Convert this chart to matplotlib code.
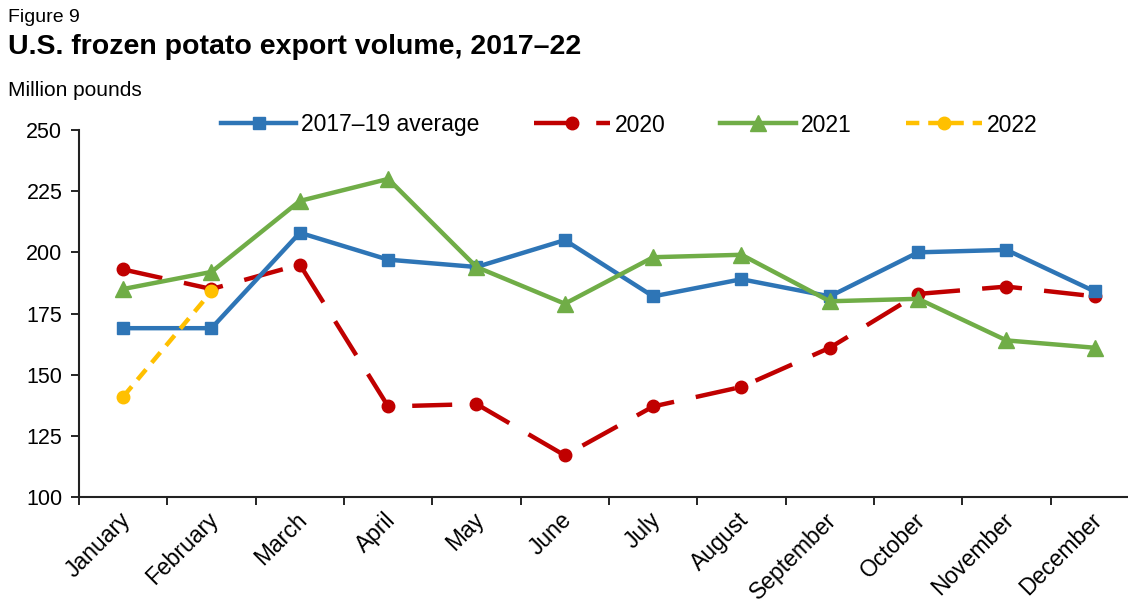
import numpy as np
import matplotlib
matplotlib.use("Agg")
import matplotlib.pyplot as plt

plt.rcParams['font.family'] = ['Liberation Sans', 'DejaVu Sans']

months = ["January", "February", "March", "April", "May", "June", "July",
          "August", "September", "October", "November", "December"]
avg_17_19 = [169, 169, 208, 197, 194, 205, 182, 189, 182, 200, 201, 184]
y2020 = [193, 185, 195, 137, 138, 117, 137, 145, 161, 183, 186, 182]
y2021 = [185, 192, 221, 230, 194, 179, 198, 199, 180, 181, 164, 161]
y2022 = [141, 184]
yticks = [100, 125, 150, 175, 200, 225, 250]

blue = "#2E75B6"
red = "#C00000"
green = "#70AD47"
yellow = "#FFC000"

fig = plt.figure(figsize=(11.28, 6.06), dpi=100)
ax = fig.add_axes([79/1128, 109/606, 1060/1128, 367/606])

x = np.arange(len(months))
ax.plot(x, avg_17_19, color=blue, lw=3.2, marker="s", ms=9, label="2017\u201319 average", zorder=3)
ax.plot(x, y2020, color=red, lw=3.2, marker="o", ms=9, dashes=(9, 5), label="2020", zorder=2)
ax.plot(x, y2021, color=green, lw=3.2, marker="^", ms=11, label="2021", zorder=4)
ax.plot(x[:len(y2022)], y2022, color=yellow, lw=3.2, marker="o", ms=9, dashes=(3, 2), label="2022", zorder=5)

ax.set_xlim(-0.5, 11.5)
ax.set_ylim(100, 250)
ax.set_yticks(yticks)
ax.set_xticks(np.arange(-0.5, 12, 1), minor=False)
ax.set_xticklabels([])
ax.set_xticks(x - 0.05, minor=True)
ax.set_xticklabels(months, minor=True, rotation=45, ha="right", va="top",
                   rotation_mode="anchor", fontsize=16.5)
ax.tick_params(axis="x", which="minor", length=0, pad=8)
ax.tick_params(axis="x", which="major", length=6, width=1.2, direction="out")
ax.tick_params(axis="y", length=6, width=1.2, direction="out", labelsize=15.5, pad=6)
for s in ["top", "right"]:
    ax.spines[s].set_visible(False)
for s in ["left", "bottom"]:
    ax.spines[s].set_linewidth(1.5)
    ax.spines[s].set_color("#222222")

fig.text(8/1128, 1 - 17/606, "Figure 9", fontsize=14, va="center", ha="left")
fig.text(8/1128, 1 - 47/606, "U.S. frozen potato export volume, 2017\u201322",
         fontsize=20.5, fontweight="bold", va="center", ha="left")
fig.text(8/1128, 1 - 90/606, "Million pounds", fontsize=15, va="center", ha="left")

leg = fig.legend(loc="center", bbox_to_anchor=(629/1128, 1 - 125/606), ncol=4,
                 frameon=False, fontsize=16.5, handlelength=3.3, columnspacing=2.4,
                 handletextpad=0.2)

fig.savefig("out.png", dpi=100)
